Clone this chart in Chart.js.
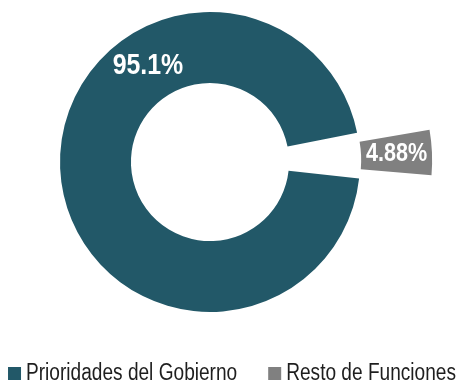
<!DOCTYPE html>
<html>
<head>
<meta charset="utf-8">
<script src="https://cdn.jsdelivr.net/npm/chart.js@4.4.1/dist/chart.umd.min.js"></script>
<style>
  html, body { margin: 0; padding: 0; background: #fff; }
  #wrap { width: 464px; height: 384px; }
</style>
</head>
<body>
<div id="wrap"><canvas id="dona" width="464" height="384"></canvas></div>
<script>
// gasto por tipo de función (%)
const categorias = ['Prioridades del Gobierno', 'Resto de Funciones'];
const porcentajes = [95.1, 4.88];
const etiquetas = ['95.1%', '4.88%'];
const colores = ['#225868', '#808080'];

// no hay Arial Narrow: se estrecha Liberation Sans a mano
const FUENTE = '"Liberation Sans", Arial, sans-serif';
const ESTRECHO = 0.83;

// desplazamiento real que aplica ArcElement.draw para un offset dado
function desplazamiento(arc) {
  const off = (arc.options.offset || 0) / 4;
  const circ = arc.endAngle - arc.startAngle;
  return off + off * (1 - Math.sin(Math.min(Math.PI, circ)));
}

// escribe el porcentaje en blanco sobre cada sector
const etiquetasSector = {
  id: 'etiquetasSector',
  afterDatasetsDraw(chart, args, opts) {
    const ctx = chart.ctx;
    const meta = chart.getDatasetMeta(0);
    ctx.save();
    ctx.fillStyle = '#fff';
    ctx.textAlign = 'center';
    ctx.textBaseline = 'middle';
    meta.data.forEach((arc, i) => {
      const p = arc.getProps(['x', 'y', 'startAngle', 'endAngle', 'innerRadius', 'outerRadius']);
      const mitad = (p.startAngle + p.endAngle) / 2;
      const ang = opts.angulos[i] != null ? opts.angulos[i] : mitad;
      const r = (p.innerRadius + p.outerRadius) / 2;
      const d = desplazamiento(arc);
      ctx.save();
      ctx.translate(p.x + Math.cos(ang) * r + Math.cos(mitad) * d,
                    p.y + Math.sin(ang) * r + Math.sin(mitad) * d);
      ctx.scale(ESTRECHO, 1);
      ctx.font = 'bold ' + opts.tamanos[i] + 'px ' + FUENTE;
      ctx.fillText(etiquetas[i], 0, 0);
      ctx.restore();
    });
    ctx.restore();
  }
};

// leyenda en una sola fila, con cuadrados y letra estrecha
const leyendaEstrecha = {
  id: 'leyendaEstrecha',
  afterDraw(chart, args, opts) {
    const ctx = chart.ctx;
    const ds = chart.data.datasets[0];
    ctx.save();
    ctx.font = opts.tamano + 'px ' + FUENTE;
    const anchos = chart.data.labels.map(t => ctx.measureText(t).width * ESTRECHO);
    let total = 0;
    anchos.forEach((w, i) => {
      total += opts.caja + opts.hueco + w + (i ? opts.separacion : 0);
    });
    let x = (chart.width - total) / 2;
    const base = opts.y;
    chart.data.labels.forEach((t, i) => {
      ctx.fillStyle = ds.backgroundColor[i];
      ctx.fillRect(x, base - opts.caja, opts.caja, opts.caja);
      x += opts.caja + opts.hueco;
      ctx.save();
      ctx.translate(x, base);
      ctx.scale(ESTRECHO, 1);
      ctx.fillStyle = opts.color;
      ctx.textBaseline = 'alphabetic';
      ctx.fillText(t, 0, 0);
      ctx.restore();
      x += anchos[i] + opts.separacion;
    });
    ctx.restore();
  }
};

new Chart(document.getElementById('dona'), {
  type: 'doughnut',
  data: {
    labels: categorias,
    datasets: [{
      data: porcentajes,
      backgroundColor: colores,
      borderWidth: 0,
      radius: 150,
      cutout: '52.7%',
      offset: [0, 170],
      rotation: 96.3
    }]
  },
  options: {
    responsive: false,
    animation: false,
    layout: { padding: { left: 0, right: 44, top: 0, bottom: 60 } },
    plugins: {
      tooltip: { enabled: false },
      legend: { display: false },
      etiquetasSector: {
        angulos: [-122.8 * Math.PI / 180, null],
        tamanos: [30, 26]
      },
      leyendaEstrecha: {
        tamano: 23,
        caja: 13,
        hueco: 5,
        separacion: 31,
        y: 380,
        color: '#1e1e1e'
      }
    }
  },
  plugins: [etiquetasSector, leyendaEstrecha]
});
</script>
</body>
</html>
